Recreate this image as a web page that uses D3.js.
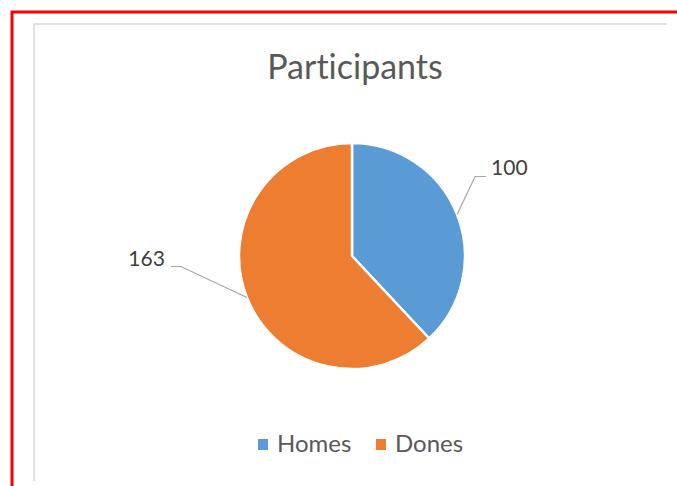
<!DOCTYPE html>
<html>
<head>
<meta charset="utf-8">
<script src="https://cdn.jsdelivr.net/npm/d3@7"></script>
<style>
  html, body { margin: 0; padding: 0; background: #fff; }
  svg { display: block; }
  text { font-variant-ligatures: none; font-feature-settings: "liga" 0; }
</style>
</head>
<body>
<svg id="chart" width="677" height="486"></svg>
<script>
const title = "Participants";
const categories = ["Homes", "Dones"];
const values = [100, 163];
const colors = ["#5B9BD5", "#ED7D31"];

const W = 677, H = 486;
const svg = d3.select("#chart");
const font = "Lato, 'Open Sans', sans-serif";

// outer red frame (left and top only, image is cropped)
svg.append("path")
  .attr("d", `M12,${H} V12 H${W}`)
  .attr("fill", "none").attr("stroke", "#ff0000").attr("stroke-width", 3);

// chart area border (grey)
svg.append("path")
  .attr("d", `M34,481 V24 H667`)
  .attr("fill", "none").attr("stroke", "#d9d9d9").attr("stroke-width", 1.5);

// title
svg.append("text")
  .attr("x", 355).attr("y", 79)
  .attr("text-anchor", "middle")
  .attr("font-family", font).attr("font-size", 34)
  .attr("fill", "#595959")
  .text(title);

// pie
const cx = 352, cy = 256, r = 113;
const pie = d3.pie().sort(null).value(d => d.value);
const arcs = pie(categories.map((c, i) => ({ name: c, value: values[i], color: colors[i] })));
const arc = d3.arc().innerRadius(0).outerRadius(r);

const g = svg.append("g").attr("transform", `translate(${cx},${cy})`);
g.selectAll("path.slice").data(arcs).enter().append("path")
  .attr("class", "slice")
  .attr("d", arc)
  .attr("fill", d => d.data.color)
  .attr("stroke", "#fff").attr("stroke-width", 2.5).attr("stroke-linejoin", "round");

// leader lines and data labels
const leader = [
  { dx: 18, dy: -38, h: 11, side: 1, tdx: 5, tdy: -1 },
  { dx: -66, dy: -31, h: -10, side: -1, tdx: -6, tdy: -1 }
];
arcs.forEach((d, i) => {
  const mid = (d.startAngle + d.endAngle) / 2;
  const sx = Math.sin(mid) * r, sy = -Math.cos(mid) * r;
  const L = leader[i];
  const ex = sx + L.dx, ey = sy + L.dy;
  const hx = ex + L.h;
  g.append("path")
    .attr("d", `M${sx},${sy} L${ex},${ey} L${hx},${ey}`)
    .attr("fill", "none").attr("stroke", "#a6a6a6").attr("stroke-width", 1.2);
  g.append("text")
    .attr("x", hx + L.tdx).attr("y", ey + L.tdy)
    .attr("text-anchor", L.side > 0 ? "start" : "end")
    .attr("font-family", font).attr("font-size", 21)
    .attr("fill", "#404040")
    .text(d.data.value);
});

// legend
const legendItems = [
  { x: 258, tx: 277 },
  { x: 376, tx: 395 }
];
const lg = svg.append("g");
categories.forEach((c, i) => {
  lg.append("rect")
    .attr("x", legendItems[i].x).attr("y", 439)
    .attr("width", 10).attr("height", 11)
    .attr("fill", colors[i]);
  lg.append("text")
    .attr("x", legendItems[i].tx).attr("y", 452)
    .attr("font-family", font).attr("font-size", 24)
    .attr("fill", "#595959")
    .text(c);
});
</script>
</body>
</html>
